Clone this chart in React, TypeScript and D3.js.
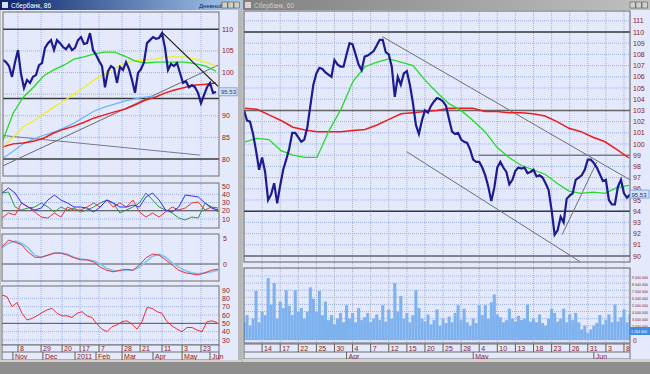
import React from 'react';
import * as d3 from 'd3';

// ---------- LEFT (daily) ----------
const leftClose = [102.9,102.4,101.5,99.0,102.4,105.2,99.7,96.4,98.3,97.6,99.0,99.4,101.7,102.2,105.7,106.8,107.5,105.2,107.5,106.8,105.9,105.4,106.4,105.2,105.7,107.5,108.2,106.6,106.8,109.1,105.2,104.1,102.7,101.5,96.6,100.3,101.5,101.0,97.6,101.3,100.6,102.4,100.8,98.3,95.3,99.9,100.8,102.4,106.8,107.5,108.2,107.8,108.0,109.1,105.7,100.6,102.0,101.5,102.2,99.9,97.6,98.0,96.6,97.1,96.6,95.3,92.9,94.8,96.6,97.6,95.3,95.5];
const leftGreenMA = [84.4,90.6,94.3,96.6,99.2,100.6,101.7,103.1,103.6,104.3,104.7,104.7,103.8,102.7,102.2,102.4,102.4,102.4,102.4,102.0,101.5,100.3];
const leftYellowMA = [82.8,85.1,87.4,88.8,90.4,92.0,93.4,95.0,96.6,98.3,99.7,101.0,102.2,102.7,102.9,103.1,103.6,103.6,103.6,103.1,102.4,101.5];
const leftRedMA = [82.8,83.5,83.7,84.1,84.8,86.0,86.9,87.6,88.5,89.5,90.2,90.9,91.5,92.5,93.6,94.3,95.3,96.0,96.6,97.1,97.3,97.6];
const leftBlueMA = [80.2,81.8,83.5,84.6,85.5,86.2,87.2,88.3,89.7,91.1,92.0,92.7,93.4,93.9,94.3,94.6];
const leftLevels = [110, 94, 80];
const leftPriceTicks = [110, 105, 100, 90, 85, 80];
const leftTrendBlack = [[53, 109.3], [71.7, 96.8]];
const leftTrendUp = [[-1, 78.1], [71.7, 101.7]];
const leftTrendDown = [[-1, 85.5], [65.7, 80.9]];
const leftDayTickIdx = [5, 12.7, 19.7, 25.7, 32, 39.7, 45.7, 53, 59.7, 66];
const leftDayTickLabels = ['8', '29', '20', '17', '7', '28', '21', '11', '3', '23'];
const leftMonthIdx = [3.3, 13.3, 24, 31, 39.7, 50, 59.7, 69];
const leftMonthLabels = ['Nov', 'Dec', '2011', 'Feb', 'Mar', 'Apr', 'May', 'Jun'];

const dmiBlue = [41.5,47.6,41.5,29.4,24.5,20.9,23.3,33.0,39.1,33.0,29.4,24.5,24.5,23.3,18.5,24.5,33.0,29.4,24.5,24.5,27.0,24.5,36.7,41.5,33.0,20.9,18.5,24.5,39.1,37.9,36.7,29.4,23.3,20.9];
const dmiRed = [11.2,17.3,14.8,29.4,24.5,18.5,12.4,11.2,17.3,12.4,24.5,20.9,20.9,24.5,29.4,24.5,33.0,24.5,29.4,24.5,33.0,18.5,12.4,17.3,12.4,18.5,24.5,20.9,23.3,29.4,30.6,20.9,24.5,23.3];
const dmiGreen = [41.5,42.7,24.5,20.9,23.3,24.5,29.4,24.5,18.5,24.5,20.9,23.3,18.5,20.9,24.5,29.4,33.0,29.4,17.3,20.9,24.5,29.4,41.5,33.0,24.5,20.9,17.3,11.2,8.8,12.4,11.2,29.4,24.5,18.5];
const dmiTicks = [50, 40, 30, 20, 10];
const macdRed = [3.3,4.6,4.2,3.7,2.3,1.3,1.3,1.7,2.1,2.1,1.7,1.2,0.8,0.8,0.4,-0.6,-1.2,-1.5,-1.2,-1.0,-1.2,-0.2,1.2,1.9,1.7,0.8,-0.2,-1.2,-1.7,-1.9,-2.1,-1.7,-1.2,-1.0];
const macdBlue = [3.1,4.0,4.4,4.0,3.1,1.7,1.3,1.7,2.1,2.1,1.9,1.3,1.0,0.8,0.6,0,-0.8,-1.3,-1.3,-1.2,-1.2,-0.6,0.4,1.5,1.9,1.3,0.2,-0.6,-1.3,-1.7,-1.9,-1.7,-1.5,-1.2];
const macdTicks = [5, 0];
const rsi = [84,82,70,75,62,54,56,59,63,66,68,62,59,59,57,62,64,59,57,49,43,40,46,48,52,53,49,43,52,69,68,64,62,52,47,43,40,45,45,42,40,52,53,51];
const rsiTicks = [90, 80, 70, 60, 50, 40, 30];

// ---------- RIGHT (intraday) ----------
const rightClose = [103.0,102.1,102.0,100.9,99.4,97.7,98.8,97.5,95.0,95.5,96.5,94.7,96.3,97.7,98.6,99.6,101.0,101.0,100.6,100.2,100.4,101.5,103.4,105.3,106.3,106.8,106.7,106.4,106.2,106.0,107.5,107.1,106.9,106.9,108.0,109.0,108.9,108.0,107.1,106.6,107.8,107.9,108.1,108.3,108.8,109.3,109.3,108.2,108.0,106.9,104.2,106.0,105.3,106.3,106.5,105.3,103.7,101.7,100.9,102.1,103.0,102.8,103.4,103.8,104.1,104.0,103.8,103.4,102.2,101.1,100.9,101.0,100.4,100.2,100.1,99.5,98.6,98.4,98.4,97.9,97.2,96.2,94.9,96.1,97.9,98.4,97.9,97.5,96.4,96.8,97.6,97.9,97.8,97.9,97.4,97.5,97.7,97.1,97.2,97.0,96.5,95.9,94.1,91.9,92.3,93.5,93.0,95.1,95.4,95.6,96.8,97.0,97.2,97.7,98.6,98.6,98.3,97.9,97.3,96.7,96.8,95.0,94.6,94.6,96.2,96.8,95.6,95.2,95.5];
const rightVolume = [2.5,3.5,2.0,3.0,6.9,2.5,4.0,3.5,8.7,5.0,8.0,3.0,5.4,4.5,7.0,4.8,3.5,7.0,4.0,4.5,3.0,4.0,7.4,5.8,4.0,6.9,3.5,5.4,2.8,3.5,2.2,3.0,3.8,2.5,4.9,3.0,3.8,2.5,4.5,2.8,3.2,3.8,2.5,3.0,3.6,2.8,4.9,2.6,4.3,3.0,8.0,4.0,6.2,3.0,3.8,2.5,3.5,7.0,4.5,3.0,2.6,3.6,2.2,2.8,4.3,2.0,3.0,2.4,3.3,2.5,3.8,4.9,2.8,4.4,2.5,2.0,3.0,2.4,4.9,3.5,4.9,3.0,5.3,6.4,3.6,3.2,2.5,2.8,4.4,3.0,2.6,3.4,2.8,3.0,5.0,2.6,3.0,2.5,3.6,2.4,2.0,3.0,4.4,3.8,2.6,3.0,4.4,2.5,3.6,2.8,3.8,2.5,1.5,2.0,1.0,1.5,2.0,2.4,3.5,2.2,2.8,3.6,2.5,5.0,2.6,3.2,4.3,2.5,3.7];
const rightGreenMA = [100.2,100.5,100.4,99.4,99.0,98.8,98.8,101.2,103.1,105.6,106.9,107.3,107.6,107.3,107.0,105.7,104.6,103.6,103.0,102.1,101.1,99.7,98.8,98.1,97.7,97.3,96.5,95.8,95.6,95.7,95.6,96.1,96.3];
const rightRedMA = [103.2,103.1,102.6,102.1,101.5,101.25,101.1,101.1,101.1,101.2,101.3,101.7,102.2,102.7,102.8,102.9,103.0,103.2,103.2,103.2,102.9,102.9,102.8,102.8,102.7,102.5,102.0,101.4,101.1,100.6,100.2,99.5,98.75];
const rightLevels = [110, 103, 94, 90];
const rightPriceTicks = [111,110,109,108,107,106,105,104,103,102,101,100,99,98,97,96,95,94,93,92,91,90];
const rightTrendUpper = [[45.8, 109.6], [128, 96.8]];
const rightTrendLower = [[54, 99.3], [111.4, 89.5]];
const rightTrendRise = [[105.5, 91.9], [117, 98.4]];
const rightLevel99 = [[77.8, 99], [128, 99]];
const rightDayTickIdx = [6,12,18,24,30,36,42,48,54,60,66,72,78,84,90,96,102,108,114,120,126];
const rightDayTickLabels = ['14','17','22','25','30','4','7','12','15','20','25','28','4','10','13','18','23','26','31','3','8'];
const rightMonthIdx = [34, 76, 116];
const rightMonthLabels = ['Apr', 'May', 'Jun'];
const volTicks = [9,8,7,6,5,4,3,2,0];
const volTickLabels = ['9 000 000','8 000 000','7 000 000','6 000 000','5 000 000','4 000 000','3 000 000','2 000 000','0'];
const volGrid = [9,8,7,6,5,4,3,2,1,0];
const lastPrice = 95.53;
const lastVolume = 1.264;
const lastVolumeLabel = '1 264 400';

const FONT = 'Liberation Sans, Arial, sans-serif';
const LBL = '#8b1c1c';
const GRID = '#9fb2e4';
const BG = '#e4e9fb';

type Pt = number[];

export default function App() {
  // left scales
  const lx = d3.scaleLinear().domain([0, leftClose.length - 1]).range([3, 216]);
  const lxMA = d3.scaleLinear().domain([0, leftGreenMA.length - 1]).range([3, 216]);
  const ly = d3.scaleLinear().domain([110, 80]).range([29.3, 159]);
  const dx = d3.scaleLinear().domain([0, dmiBlue.length - 1]).range([2, 218]);
  const dy = d3.scaleLinear().domain([50, 10]).range([186, 219]);
  const my = d3.scaleLinear().domain([5, 0]).range([238, 264]);
  const rsx = d3.scaleLinear().domain([0, rsi.length - 1]).range([2, 217]);
  const rsy = d3.scaleLinear().domain([90, 30]).range([290, 340]);

  // right scales
  const rx = d3.scaleLinear().domain([0, rightClose.length - 1]).range([244, 630]);
  const rxMA = d3.scaleLinear().domain([0, rightGreenMA.length - 1]).range([245, 629]);
  const ry = d3.scaleLinear().domain([110, 90]).range([32, 256]);
  const vy = d3.scaleLinear().domain([0, 9]).range([340, 276]);

  const mk = (xs: any, ys: any) => d3.line<number>().x((_, i) => xs(i)).y((d) => ys(d));
  const seg = (xs: any, ys: any, p: Pt[]) => ({ x1: xs(p[0][0]), y1: ys(p[0][1]), x2: xs(p[1][0]), y2: ys(p[1][1]) });

  const txt = (x: number, y: number, s: string, key: string, extra: any = {}) => (
    <text key={key} x={x} y={y} fontSize={7} fontFamily={FONT} fill={LBL} {...extra}>{s}</text>
  );

  const lt = seg(lx, ly, leftTrendBlack as Pt[]);
  const lu = seg(lx, ly, leftTrendUp as Pt[]);
  const ld = seg(lx, ly, leftTrendDown as Pt[]);
  const ru = seg(rx, ry, rightTrendUpper as Pt[]);
  const rl = seg(rx, ry, rightTrendLower as Pt[]);
  const rr = seg(rx, ry, rightTrendRise as Pt[]);
  const r99 = seg(rx, ry, rightLevel99 as Pt[]);

  return (
    <svg width={650} height={374} style={{ position: 'absolute', left: 0, top: 0, display: 'block' }} xmlns="http://www.w3.org/2000/svg">
      <defs>
        <linearGradient id="tbA" x1="0" x2="1" y1="0" y2="0">
          <stop offset="0" stopColor="#0a246a" />
          <stop offset="1" stopColor="#a6caf0" />
        </linearGradient>
        <linearGradient id="tbI" x1="0" x2="1" y1="0" y2="0">
          <stop offset="0" stopColor="#808080" />
          <stop offset="1" stopColor="#c0c0c0" />
        </linearGradient>
        <clipPath id="cLMain"><rect x={3} y={12} width={216} height={164} /></clipPath>
        <clipPath id="cLDmi"><rect x={2} y={183} width={217} height={45} /></clipPath>
        <clipPath id="cLMacd"><rect x={2} y={234} width={217} height={47} /></clipPath>
        <clipPath id="cLRsi"><rect x={2} y={286} width={217} height={59} /></clipPath>
        <clipPath id="cRMain"><rect x={244} y={11} width={386} height={251} /></clipPath>
        <clipPath id="cRVol"><rect x={244} y={268} width={386} height={75} /></clipPath>
      </defs>

      {/* desktop / frames */}
      <rect x={0} y={0} width={650} height={374} fill="#c0c0c0" />
      <rect x={0} y={362} width={650} height={12} fill="#8e8e8e" />

      {/* ===== LEFT WINDOW ===== */}
      <rect x={0} y={0} width={241} height={10} fill="url(#tbA)" />
      <rect x={2} y={2} width={6} height={6} fill="#d8d8f0" />
      <text x={11} y={8} fontSize={6.5} fontFamily={FONT} fill="#ffffff">Сбербанк, 86</text>
      <text x={199} y={8} fontSize={6} fontFamily={FONT} fill="#0a246a">Дневной</text>
      {[222, 228, 234].map((x, i) => <rect key={'lb' + i} x={x} y={2} width={5.5} height={6} fill="#d4d0c8" stroke="#404040" strokeWidth={0.5} />)}
      <rect x={1} y={10} width={238} height={351} fill={BG} />
      <rect x={238} y={10} width={4} height={352} fill="#b8b8b8" />

      {/* left main grid */}
      <g stroke={GRID} strokeWidth={1} strokeDasharray="1 1">
        {leftDayTickIdx.map((t, i) => <line key={'lgv' + i} x1={lx(t)} x2={lx(t)} y1={12} y2={345} />)}
        {[105, 100, 95, 90, 85].map((v) => <line key={'lgh' + v} x1={3} x2={219} y1={ly(v)} y2={ly(v)} />)}
        {[40, 30, 10].map((v) => <line key={'dgh' + v} x1={2} x2={219} y1={dy(v)} y2={dy(v)} />)}
        {[80, 70, 60, 40, 30].map((v) => <line key={'rgh' + v} x1={2} x2={219} y1={rsy(v)} y2={rsy(v)} />)}
      </g>

      {/* left main lines */}
      <g clipPath="url(#cLMain)" fill="none">
        {leftLevels.map((v) => <line key={'ll' + v} x1={3} x2={219} y1={ly(v)} y2={ly(v)} stroke="#3a3a3a" strokeWidth={1.6} />)}
        <line {...ld} stroke="#7a7a8a" strokeWidth={1} />
        <line {...lu} stroke="#6a6a6a" strokeWidth={1} />
        <path d={mk(lxMA, ly)(leftBlueMA) || ''} stroke="#6ab8f4" strokeWidth={1.2} />
        <path d={mk(lxMA, ly)(leftRedMA) || ''} stroke="#ee1c1c" strokeWidth={1.5} />
        <path d={mk(lxMA, ly)(leftYellowMA) || ''} stroke="#f0f020" strokeWidth={1.3} />
        <path d={mk(lxMA, ly)(leftGreenMA) || ''} stroke="#22dd22" strokeWidth={1.3} />
        <path d={mk(lx, ly)(leftClose) || ''} stroke="#1c1c90" strokeWidth={2.2} />
        <line {...lt} stroke="#1a1a1a" strokeWidth={1.2} />
      </g>
      <rect x={3} y={12} width={216} height={164} fill="none" stroke="#707070" strokeWidth={1} />

      {/* DMI */}
      <g clipPath="url(#cLDmi)" fill="none">
        <line x1={2} x2={219} y1={dy(20)} y2={dy(20)} stroke="#404040" strokeWidth={1} />
        <path d={mk(dx, dy)(dmiGreen) || ''} stroke="#2e9a3a" strokeWidth={1} />
        <path d={mk(dx, dy)(dmiRed) || ''} stroke="#ee3030" strokeWidth={1} />
        <path d={mk(dx, dy)(dmiBlue) || ''} stroke="#3030ee" strokeWidth={1} />
      </g>
      <rect x={2} y={183} width={217} height={45} fill="none" stroke="#707070" strokeWidth={1} />

      {/* MACD */}
      <g clipPath="url(#cLMacd)" fill="none">
        <line x1={2} x2={219} y1={my(0)} y2={my(0)} stroke="#505050" strokeWidth={1} />
        <path d={mk(dx, my)(macdBlue) || ''} stroke="#7cc4f8" strokeWidth={1.6} />
        <path d={mk(dx, my)(macdRed) || ''} stroke="#ee3030" strokeWidth={1} />
      </g>
      <rect x={2} y={234} width={217} height={47} fill="none" stroke="#707070" strokeWidth={1} />

      {/* RSI */}
      <g clipPath="url(#cLRsi)" fill="none">
        <line x1={2} x2={219} y1={rsy(50)} y2={rsy(50)} stroke="#505050" strokeWidth={1} />
        <path d={mk(rsx, rsy)(rsi) || ''} stroke="#ee3030" strokeWidth={1} />
      </g>
      <rect x={2} y={286} width={217} height={59} fill="none" stroke="#707070" strokeWidth={1} />

      {/* left axis labels */}
      {leftPriceTicks.map((v) => txt(222, ly(v) + 2.5, String(v), 'lpt' + v))}
      <rect x={219} y={ly(lastPrice) - 4} width={18} height={8} fill="#cfe3fb" stroke="#5a7fb8" strokeWidth={0.6} />
      {txt(221, ly(lastPrice) + 2.5, lastPrice.toFixed(2), 'lpx', { fill: '#303060', fontSize: 6 })}
      {dmiTicks.map((v) => txt(222, dy(v) + 2.5, String(v), 'dt' + v))}
      {macdTicks.map((v) => txt(223, my(v) + 2.5, String(v), 'mt' + v))}
      {rsiTicks.map((v) => txt(222, rsy(v) + 2.5, String(v), 'rt' + v))}

      {/* left date axis */}
      <rect x={2} y={345} width={217} height={15} fill={BG} stroke="#707070" strokeWidth={1} />
      <line x1={2} x2={219} y1={352} y2={352} stroke="#707070" />
      {leftDayTickIdx.map((t, i) => (
        <g key={'ldt' + i}>
          <line x1={lx(t)} x2={lx(t)} y1={345} y2={352} stroke="#606060" />
          {txt(lx(t) + 2, 351, leftDayTickLabels[i], 'ldl' + i)}
        </g>
      ))}
      {leftMonthIdx.map((t, i) => (
        <g key={'lmt' + i}>
          <line x1={lx(t)} x2={lx(t)} y1={352} y2={360} stroke="#606060" />
          {txt(lx(t) + 2, 359, leftMonthLabels[i], 'lml' + i)}
        </g>
      ))}

      {/* ===== RIGHT WINDOW ===== */}
      <rect x={243} y={0} width={407} height={10} fill="url(#tbI)" />
      <rect x={245} y={2} width={6} height={6} fill="#e0d0d0" />
      <text x={254} y={8} fontSize={6.5} fontFamily={FONT} fill="#d4d0c8">Сбербанк, 60</text>
      {[630, 636, 642].map((x, i) => <rect key={'rb' + i} x={x} y={2} width={5.5} height={6} fill="#d4d0c8" stroke="#404040" strokeWidth={0.5} />)}
      <rect x={243} y={10} width={407} height={349} fill={BG} />

      {/* right grid */}
      <g stroke={GRID} strokeWidth={1} strokeDasharray="1 1">
        {rightDayTickIdx.map((t, i) => <line key={'rgv' + i} x1={rx(t)} x2={rx(t)} y1={11} y2={343} />)}
        {rightPriceTicks.map((v) => <line key={'rgh' + v} x1={244} x2={630} y1={ry(v)} y2={ry(v)} />)}
        {volGrid.map((v) => <line key={'vgh' + v} x1={244} x2={630} y1={vy(v)} y2={vy(v)} />)}
      </g>

      {/* right main */}
      <g clipPath="url(#cRMain)" fill="none">
        {rightLevels.map((v) => <line key={'rl' + v} x1={244} x2={630} y1={ry(v)} y2={ry(v)} stroke={v === 103 || v === 90 ? '#666666' : '#3a3a3a'} strokeWidth={1.5} />)}
        <line {...r99} stroke="#555555" strokeWidth={1} />
        <line {...ru} stroke="#707070" strokeWidth={1} />
        <line {...rl} stroke="#707070" strokeWidth={1} />
        <line {...rr} stroke="#707070" strokeWidth={1} />
        <path d={mk(rxMA, ry)(rightRedMA) || ''} stroke="#ee1c1c" strokeWidth={1.5} />
        <path d={mk(rxMA, ry)(rightGreenMA) || ''} stroke="#22dd22" strokeWidth={1.3} />
        <path d={mk(rx, ry)(rightClose) || ''} stroke="#1c1c90" strokeWidth={2.2} />
      </g>
      <rect x={244} y={11} width={386} height={251} fill="none" stroke="#606060" strokeWidth={1} />

      {/* volume */}
      <g clipPath="url(#cRVol)">
        {rightVolume.map((v, i) => (
          <rect key={'v' + i} x={rx(i) - 1.5} y={vy(v)} width={3.05} height={vy(0) - vy(v)} fill="#7eb2ef" />
        ))}
      </g>
      <rect x={244} y={268} width={386} height={75} fill="none" stroke="#606060" strokeWidth={1} />

      {/* right axis labels */}
      {rightPriceTicks.map((v) => txt(633, ry(v) + 2.5, String(v), 'rpt' + v))}
      <rect x={630} y={ry(lastPrice) - 4} width={19} height={8} fill="#cfe3fb" stroke="#5a7fb8" strokeWidth={0.6} />
      {txt(631.5, ry(lastPrice) + 2.5, lastPrice.toFixed(2), 'rpx', { fill: '#303060', fontSize: 6 })}
      {volTicks.map((v, i) => txt(632, vy(v) + 2.5, volTickLabels[i], 'vt' + v,
        volTickLabels[i].length > 1 ? { fontSize: 3.6 } : { fontSize: 6.5, x: 633 }))}
      <rect x={630} y={vy(lastVolume) - 4} width={20} height={8} fill="#3f8ee6" />
      {txt(631, vy(lastVolume) + 1.8, lastVolumeLabel, 'vpx', { fill: '#ffffff', fontSize: 3.6 })}

      {/* right date axis */}
      <rect x={244} y={344} width={386} height={15} fill={BG} stroke="#707070" strokeWidth={1} />
      <line x1={244} x2={630} y1={352} y2={352} stroke="#707070" />
      {rightDayTickIdx.map((t, i) => (
        <g key={'rdt' + i}>
          <line x1={rx(t)} x2={rx(t)} y1={344} y2={352} stroke="#606060" />
          {txt(rx(t) + 2, 351, rightDayTickLabels[i], 'rdl' + i)}
        </g>
      ))}
      {rightMonthIdx.map((t, i) => (
        <g key={'rmt' + i}>
          <line x1={rx(t)} x2={rx(t)} y1={352} y2={359} stroke="#606060" />
          {txt(rx(t) + 2, 358.5, rightMonthLabels[i], 'rml' + i)}
        </g>
      ))}
      <rect x={243} y={359} width={407} height={3} fill="#d4d0c8" />
      <rect x={0} y={360} width={241} height={2} fill="#d4d0c8" />
    </svg>
  );
}
